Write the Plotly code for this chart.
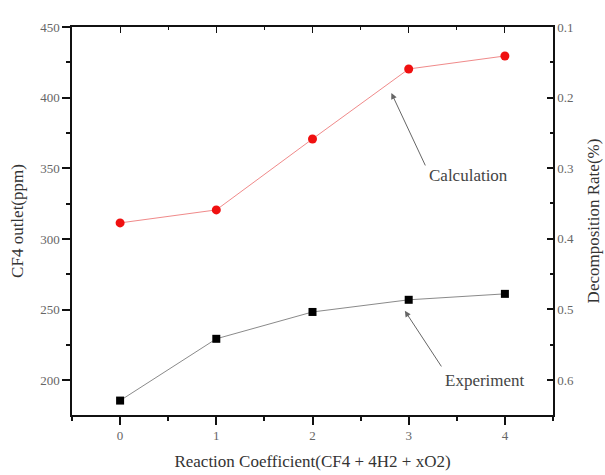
import plotly.graph_objects as go

coeff = [0, 1, 2, 3, 4]
calculation = [311.4, 320.6, 370.8, 420.3, 429.5]
experiment = [185.7, 229.4, 248.4, 257.0, 261.2]

left_ticks = [200, 250, 300, 350, 400, 450]
right_ticks = [0.1, 0.2, 0.3, 0.4, 0.5, 0.6]

FONT = "Liberation Serif, Times New Roman, serif"
TICKFONT = dict(family=FONT, size=13, color="#666")
TITLEFONT = dict(family=FONT, size=17, color="#333")

fig = go.Figure()
fig.add_trace(go.Scatter(
    x=coeff, y=calculation, mode="lines+markers", name="Calculation",
    line=dict(color="#f08a8a", width=1),
    marker=dict(symbol="circle", size=9, color="#f01010"),
))
fig.add_trace(go.Scatter(
    x=coeff, y=experiment, mode="lines+markers", name="Experiment",
    line=dict(color="#8a8a8a", width=1),
    marker=dict(symbol="square", size=8, color="#000000"),
))
# empty trace so the secondary (top / right) axes get drawn
fig.add_trace(go.Scatter(x=[], y=[], xaxis="x2", yaxis="y2", showlegend=False,
                         hoverinfo="skip"))

axis_common = dict(showline=True, linecolor="#111", linewidth=1.5, showgrid=False,
                   zeroline=False, tickfont=TICKFONT, automargin=False)

fig.update_layout(
    width=605, height=475,
    margin=dict(l=72, r=52, t=27, b=60),
    paper_bgcolor="white", plot_bgcolor="white",
    showlegend=False,
    font=dict(family=FONT, color="#333"),
    xaxis=dict(range=[-0.5, 4.5], tickvals=coeff, ticks="outside", ticklen=8,
               tickcolor="#111", tickwidth=1.5,
               minor=dict(dtick=0.5, tick0=0, ticks="outside", ticklen=4, tickcolor="#111"),
               title=dict(text="Reaction Coefficient(CF4 + 4H2 + xO2)",
                          font=TITLEFONT, standoff=13),
               **axis_common),
    xaxis2=dict(range=[-0.5, 4.5], overlaying="x", side="top", anchor="y",
                tickvals=coeff, ticks="inside", ticklen=6, tickcolor="#111",
                showticklabels=False,
                minor=dict(dtick=0.5, tick0=0, ticks="inside", ticklen=3, tickcolor="#111"),
                **axis_common),
    yaxis=dict(range=[175.5, 450], tickvals=left_ticks, ticks="outside", ticklen=8,
               tickcolor="#111", tickwidth=1.5,
               minor=dict(dtick=25, tick0=0, ticks="outside", ticklen=4, tickcolor="#111"),
               title=dict(text="CF4 outlet(ppm)", font=TITLEFONT, standoff=12),
               **axis_common),
    yaxis2=dict(range=[0.6496, 0.1], overlaying="y", side="right", anchor="x",
                tickvals=right_ticks, ticktext=[f"{v:.1f}" for v in right_ticks],
                ticks="inside", ticklen=6, tickcolor="#111", tickwidth=1.5,
                minor=dict(dtick=0.05, tick0=0, ticks="inside", ticklen=3, tickcolor="#111"),
                title=dict(text="Decomposition Rate(%)", font=TITLEFONT, standoff=14),
                **axis_common),
)

arrow = dict(xref="x", yref="y", axref="x", ayref="y", text="", showarrow=True,
             arrowhead=2, arrowsize=1.2, arrowwidth=1, arrowcolor="#666")
fig.add_annotation(x=2.82, y=403.3, ax=3.18, ay=351, **arrow)
fig.add_annotation(x=2.96, y=249.2, ax=3.35, ay=208.8, **arrow)
fig.add_annotation(x=3.62, y=344.6, xref="x", yref="y", text="Calculation", showarrow=False,
                   font=dict(family=FONT, size=17, color="#444"))
fig.add_annotation(x=3.79, y=199.6, xref="x", yref="y", text="Experiment", showarrow=False,
                   font=dict(family=FONT, size=17, color="#444"))

fig.write_html("out.html")
